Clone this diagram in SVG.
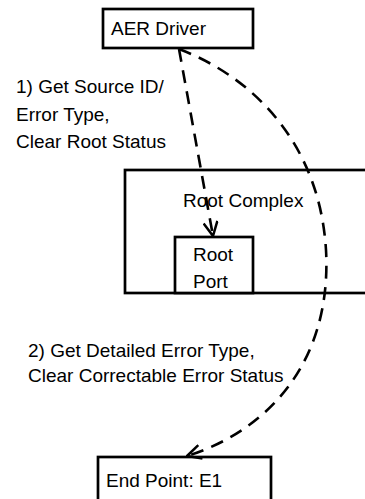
<svg xmlns="http://www.w3.org/2000/svg" width="365" height="499" viewBox="0 0 365 499">
  <defs>
    <marker id="open-arrow" viewBox="0 0 16 16" refX="15" refY="8" markerWidth="16" markerHeight="16" markerUnits="userSpaceOnUse" orient="auto">
      <path d="M1,1 L15,8 L1,15" fill="none" stroke="#000" stroke-width="2.5"/>
    </marker>
  </defs>
  <style>
    .box { fill: #fff; stroke: #000; stroke-width: 2.7; }
    .label { font-family: "Liberation Sans", Arial, sans-serif; font-size: 19px; fill: #000; }
    .flow { fill: none; stroke: #000; stroke-width: 2.6; stroke-dasharray: 13 8.5; }
  </style>
  <rect width="365" height="499" fill="#fff"/>

  <g id="root-complex">
    <rect class="box" x="125" y="170" width="250" height="123"/>
    <text class="label" x="183" y="207">Root Complex</text>
  </g>

  <g id="root-port">
    <rect class="box" x="175" y="237" width="78" height="56"/>
    <text class="label" x="193" y="261">Root</text>
    <text class="label" x="193" y="288">Port</text>
  </g>

  <g id="aer-driver">
    <rect class="box" x="103" y="9" width="150" height="39"/>
    <text class="label" x="111" y="35">AER Driver</text>
  </g>

  <g id="end-point">
    <rect class="box" x="98" y="457" width="173" height="50"/>
    <text class="label" x="106" y="487">End Point: E1</text>
  </g>

  <g id="step-labels">
    <text class="label" x="16" y="93">1) Get Source ID/</text>
    <text class="label" x="16" y="121">Error Type,</text>
    <text class="label" x="16" y="148">Clear Root Status</text>
    <text class="label" x="28" y="357">2) Get Detailed Error Type,</text>
    <text class="label" x="28" y="382">Clear Correctable Error Status</text>
  </g>

  <g id="connectors">
    <path class="flow" d="M179,49 L213,236" marker-end="url(#open-arrow)"/>
    <path class="flow" d="M179,49 C260,80 320,150 326,250 C332,360 270,430 187,456" marker-end="url(#open-arrow)"/>
  </g>
</svg>
